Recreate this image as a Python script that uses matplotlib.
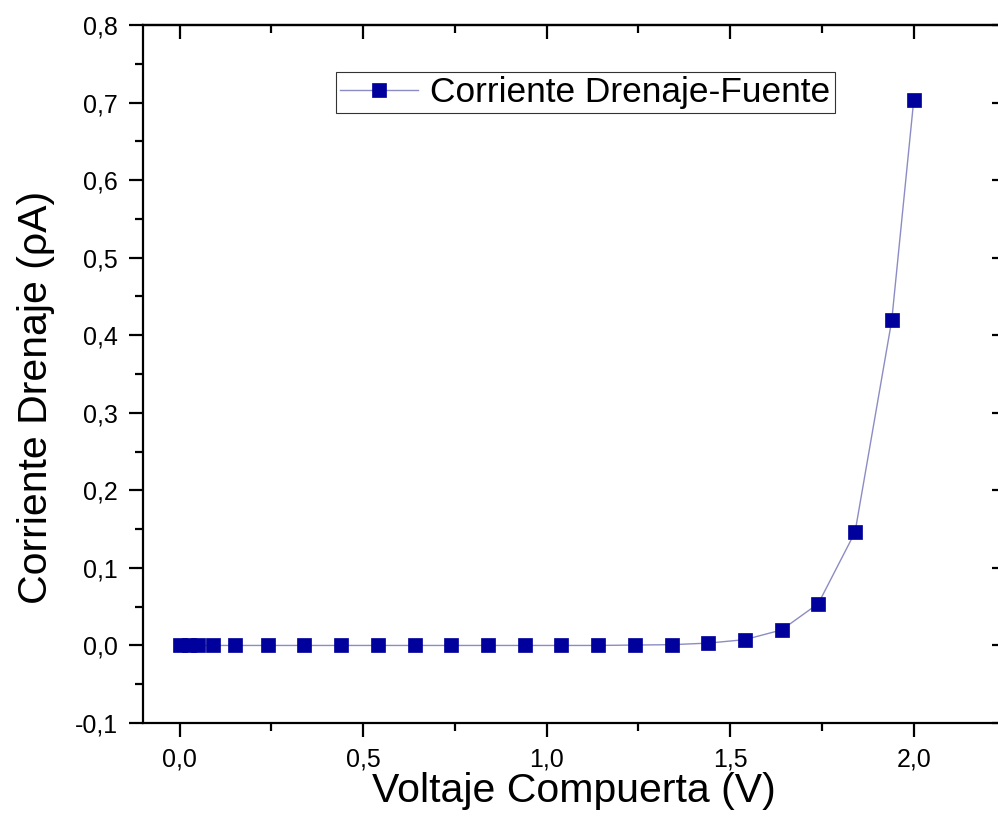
import matplotlib
matplotlib.use("Agg")
import matplotlib.pyplot as plt
from matplotlib.ticker import MultipleLocator, FuncFormatter

plt.rcParams['font.family'] = ['Liberation Sans', 'DejaVu Sans']

# Data
voltaje = [0.0, 0.025, 0.05, 0.09, 0.15, 0.24, 0.34, 0.44, 0.54, 0.64, 0.74, 0.84,
           0.94, 1.04, 1.14, 1.24, 1.34, 1.44, 1.54, 1.64, 1.74, 1.84, 1.94, 2.0]
corriente = [0.0, 0.0, 0.0, 0.0, 0.0, 0.0, 0.0, 0.0, 0.0, 0.0, 0.0, 0.0,
             0.0, 0.0, 0.0, 0.0005, 0.001, 0.003, 0.0075, 0.020, 0.054, 0.146, 0.419, 0.703]
serie_label = "Corriente Drenaje-Fuente"
x_label = "Voltaje Compuerta (V)"
y_label = "Corriente Drenaje (ρA)"

W, H = 998, 839
fig = plt.figure(figsize=(W / 100, H / 100), dpi=100)
left, right, top, bottom = 143, 1005.5, 25, 723
ax = fig.add_axes([left / W, 1 - bottom / H, (right - left) / W, (bottom - top) / H])

ax.plot(voltaje, corriente, '-', color='#8c8cc4', lw=1.0, marker='s', markersize=10.5,
        markerfacecolor='#00009c', markeredgecolor='#00009c', markeredgewidth=0.5,
        label=serie_label)

ax.set_xlim(-0.1, 2.25)
ax.set_ylim(-0.1, 0.8)
ax.xaxis.set_major_locator(MultipleLocator(0.5))
ax.xaxis.set_minor_locator(MultipleLocator(0.25))
ax.yaxis.set_major_locator(MultipleLocator(0.1))
ax.yaxis.set_minor_locator(MultipleLocator(0.05))
fmt = FuncFormatter(lambda v, p: ("%.1f" % v).replace('.', ',').replace('-0,0', '0,0'))
ax.xaxis.set_major_formatter(fmt)
ax.yaxis.set_major_formatter(fmt)

for s in ax.spines.values():
    s.set_linewidth(1.6)

ax.tick_params(which='major', direction='out', length=10, width=1.6, labelsize=18, pad=8,
               top=False, right=False)
ax.tick_params(which='minor', direction='out', length=5.5, width=1.6, top=False, right=False)

# mirrored inward ticks on top and right
axt = ax.secondary_xaxis('top')
axt.xaxis.set_major_locator(MultipleLocator(0.5))
axt.xaxis.set_minor_locator(MultipleLocator(0.25))
axt.tick_params(which='major', direction='in', length=10, width=1.6, labeltop=False)
axt.tick_params(which='minor', direction='in', length=5.5, width=1.6)
axt.spines['top'].set_linewidth(1.6)
axr = ax.secondary_yaxis('right')
axr.yaxis.set_major_locator(MultipleLocator(0.1))
axr.yaxis.set_minor_locator(MultipleLocator(0.05))
axr.tick_params(which='major', direction='in', length=10, width=1.6, labelright=False)
axr.tick_params(which='minor', direction='in', length=5.5, width=1.6)
axr.spines['right'].set_linewidth(1.6)

ax.set_xlabel(x_label, fontsize=29.5)
ax.xaxis.set_label_coords(0.5, -0.097)
ax.xaxis.label.set_va('center')
ax.set_ylabel(y_label, fontsize=29.5)
ax.yaxis.set_label_coords(-0.124, 0.466)
ax.yaxis.label.set_va('center')

leg = ax.legend(loc='upper left', bbox_to_anchor=((336 - left) / (right - left), (bottom - 72) / (bottom - top)),
                borderaxespad=0, fontsize=25.4, frameon=True, fancybox=False,
                handlelength=2.2, handletextpad=0.35, borderpad=0.12, markerscale=0.95)
leg.get_frame().set_edgecolor('black')
leg.get_frame().set_linewidth(0.8)

fig.savefig('out.png', dpi=100)
